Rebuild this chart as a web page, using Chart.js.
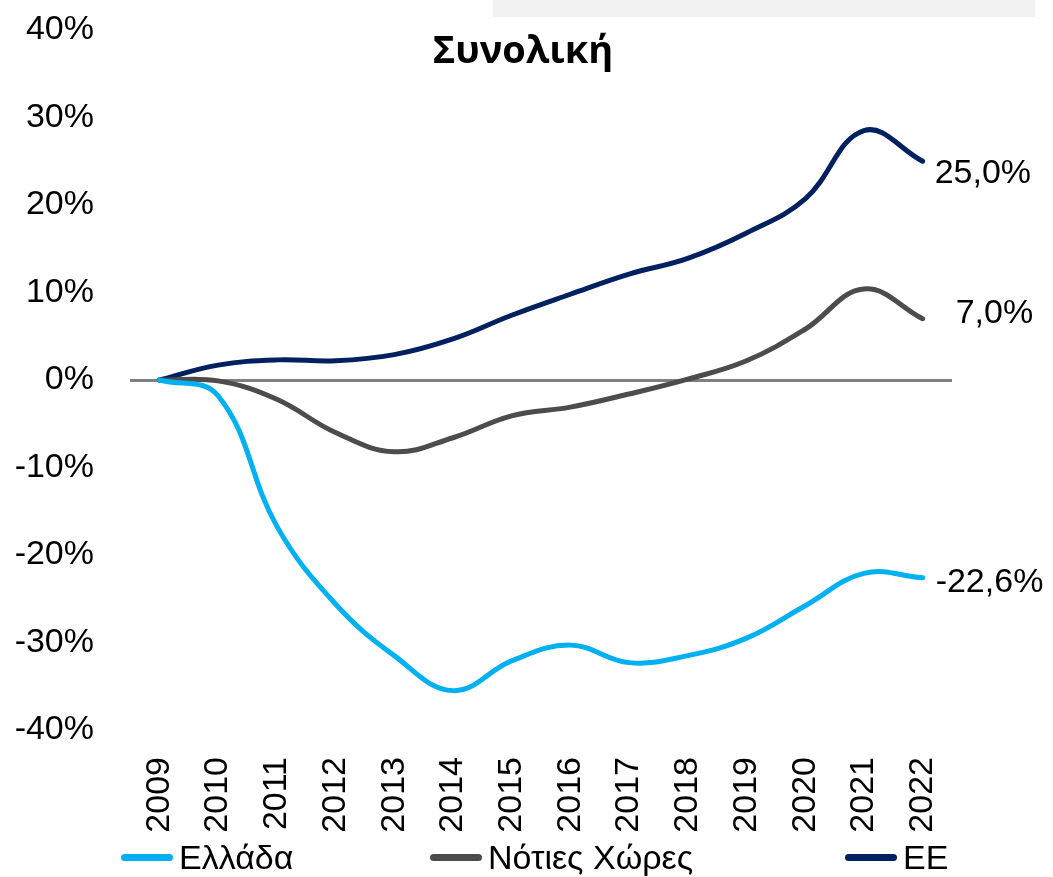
<!DOCTYPE html>
<html>
<head>
<meta charset="utf-8">
<script src="https://cdn.jsdelivr.net/npm/chart.js@4"></script>
<style>
  html, body { margin: 0; padding: 0; background: #fff; }
  #wrap { position: relative; width: 1053px; height: 877px; }
  #legend { position: absolute; left: 0; top: 838px; width: 1053px; height: 44px;
            font-family: "Liberation Sans", Arial, sans-serif; font-size: 34px; color: #000; }
  .item { position: absolute; top: 0; display: flex; align-items: center; white-space: nowrap; }
  .swatch { width: 52px; height: 7px; border-radius: 4px; margin-right: 6px; }
</style>
</head>
<body>
<div id="wrap">
  <canvas id="chart" width="1053" height="877"></canvas>
  <div id="legend"></div>
</div>
<script>
// data
const years = ['2009', '2010', '2011', '2012', '2013', '2014', '2015', '2016', '2017', '2018', '2019', '2020', '2021', '2022'];
const seriesNames = ['Ελλάδα', 'Νότιες Χώρες', 'ΕΕ'];
const greece = [0, -1.8, -16.7, -25.6, -31.5, -35.5, -32.1, -30.3, -32.3, -31.5, -29.5, -25.8, -22.1, -22.6];
const south = [0, -0.1, -2.2, -6.0, -8.2, -6.6, -4.1, -3.1, -1.6, 0.1, 2.2, 5.8, 10.4, 7.0];
const eu = [0, 1.7, 2.3, 2.2, 2.9, 4.7, 7.4, 9.8, 12.1, 13.9, 16.8, 20.7, 28.5, 25.0];
const endLabels = ['-22,6%', '7,0%', '25,0%'];
const yTicks = [-40, -30, -20, -10, 0, 10, 20, 30, 40];

const colors = ['#00B0F0', '#4D4B4C', '#002060'];
const labelOffsets = [[13, 5], [33, -5], [12, 12]]; // px from last point
const legendLeft = [121, 430, 845];

const FONT = '"Liberation Sans", Arial, sans-serif';

// title + grey band at the top
const decorPlugin = {
    id: 'decor',
    beforeDraw(chart) {
        const ctx = chart.ctx;
        ctx.save();
        ctx.fillStyle = '#F2F2F2';
        ctx.fillRect(493, 0, 542, 17);
        ctx.restore();
    },
    afterDraw(chart) {
        const ctx = chart.ctx;
        ctx.save();
        ctx.font = 'bold 38px "Open Sans", "DejaVu Sans", sans-serif';
        ctx.fillStyle = '#000';
        ctx.textAlign = 'center';
        ctx.textBaseline = 'middle';
        ctx.fillText('Συνολική', 523, 52);
        ctx.restore();
    }
};

// value labels next to the last point of every series
const endLabelPlugin = {
    id: 'endLabels',
    afterDatasetsDraw(chart) {
        const ctx = chart.ctx;
        ctx.save();
        ctx.font = '34px ' + FONT;
        ctx.fillStyle = '#000';
        ctx.textAlign = 'left';
        ctx.textBaseline = 'middle';
        chart.data.datasets.forEach((ds, i) => {
            const meta = chart.getDatasetMeta(i);
            const pt = meta.data[meta.data.length - 1];
            ctx.fillText(endLabels[i], pt.x + labelOffsets[i][0], pt.y + labelOffsets[i][1]);
        });
        ctx.restore();
    }
};

const seriesData = [greece, south, eu];

new Chart(document.getElementById('chart'), {
    type: 'line',
    data: {
        labels: years,
        datasets: seriesData.map((d, i) => ({
            label: seriesNames[i],
            data: d,
            borderColor: colors[i],
            backgroundColor: colors[i],
            borderWidth: 5,
            borderCapStyle: 'round',
            pointRadius: 0,
            tension: 0.4,
            fill: false
        }))
    },
    options: {
        responsive: false,
        animation: false,
        layout: { padding: { top: 30, right: 101, bottom: 46, left: 0 } },
        plugins: {
            legend: { display: false },
            tooltip: { enabled: false },
            title: { display: false }
        },
        scales: {
            x: {
                offset: true,
                afterFit(scale) {
                    scale.height = 101;
                    scale.paddingTop = 0;
                    scale.paddingBottom = 0;
                },
                grid: { display: false, drawTicks: false },
                border: { display: false },
                ticks: {
                    color: '#000',
                    font: { family: FONT, size: 34 },
                    minRotation: 90,
                    maxRotation: 90,
                    padding: 27,
                    autoSkip: false
                }
            },
            y: {
                min: -40,
                max: 40,
                afterFit(scale) {
                    scale.width = 130;
                    scale.paddingTop = 0;
                    scale.paddingBottom = 0;
                },
                afterBuildTicks(scale) { scale.ticks = yTicks.map(v => ({ value: v })); },
                border: { display: false },
                grid: {
                    drawTicks: false,
                    color: c => c.tick && c.tick.value === 0 ? '#808080' : 'rgba(0,0,0,0)',
                    lineWidth: c => c.tick && c.tick.value === 0 ? 3 : 0
                },
                ticks: {
                    color: '#000',
                    font: { family: FONT, size: 34 },
                    padding: 36,
                    callback: v => v + '%'
                }
            }
        }
    },
    plugins: [decorPlugin, endLabelPlugin]
});

// legend as plain text under the chart
const legend = document.getElementById('legend');
seriesNames.forEach((name, i) => {
    const item = document.createElement('div');
    item.className = 'item';
    item.style.left = legendLeft[i] + 'px';
    item.innerHTML = '<span class="swatch" style="background:' + colors[i] + '"></span><span>' + name + '</span>';
    legend.appendChild(item);
});
</script>
</body>
</html>
